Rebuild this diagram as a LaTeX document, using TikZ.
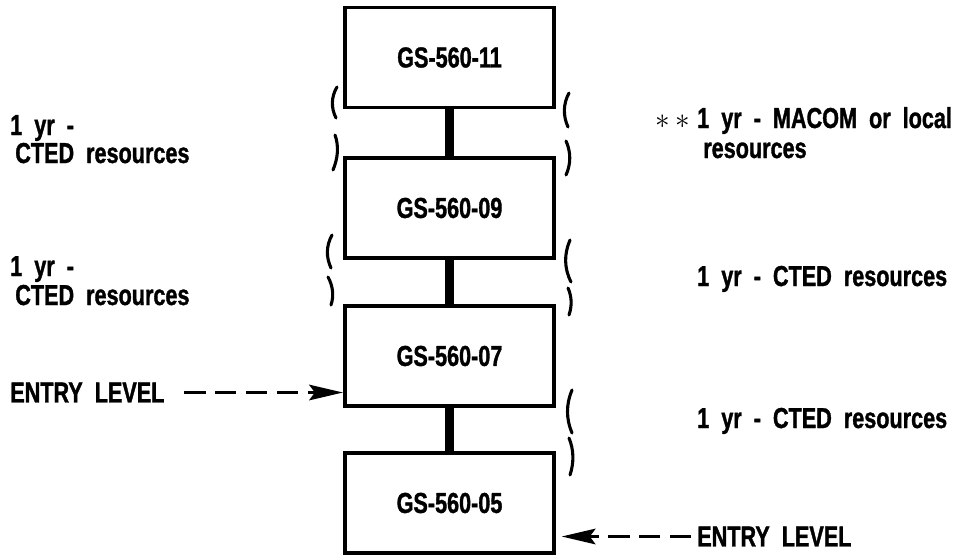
\documentclass[tikz,border=0pt]{standalone}
\usepackage{fontspec}
\newfontfamily\lblfont{Liberation Sans}[FakeStretch=0.75, WordSpace=2, FakeBold=1.2]
\usepackage{tikz}
\usetikzlibrary{arrows.meta}

\begin{document}
\begin{tikzpicture}[
    x=0.025cm, y=-0.025cm,
    grade/.style={draw, line width=2.8pt, minimum width=5.225cm, minimum height=2.5cm,
        font=\lblfont\bfseries\fontsize{20.5}{24}\selectfont},
    lbl/.style={anchor=base west, inner sep=0pt, font=\lblfont\bfseries\fontsize{20.5}{24}\selectfont},
    link/.style={line width=6.4pt},
    entry/.style={-{Stealth[length=24pt, width=11pt, inset=4pt, sep=0pt]}, line width=2.6pt, dash pattern=on 15pt off 7pt},
    brk/.style={line width=2.2pt, line cap=round}
]
    \useasboundingbox (0, 0) rectangle (964, 554);

    % Grade boxes
    \node[grade] (g11) at (449.5, 57.5) {GS-560-11};
    \node[grade] (g09) at (449.5, 208)  {GS-560-09};
    \node[grade] (g07) at (449.5, 356)  {GS-560-07};
    \node[grade] (g05) at (449.5, 503)  {GS-560-05};

    % Thick links between grades
    \draw[link] (g11) -- (g09);
    \draw[link] (g09) -- (g07);
    \draw[link] (g07) -- (g05);

    % Brackets, gap 11-09
    \draw[brk] (337, 87) .. controls (331, 97) and (331, 108) .. (336, 118);
    \draw[brk] (335, 135) .. controls (339, 146) and (338, 158) .. (333, 170);
    \draw[brk] (569, 93) .. controls (563, 104) and (563, 116) .. (568, 127);
    \draw[brk] (566, 141) .. controls (571, 152) and (571, 164) .. (566, 175);

    % Brackets, gap 09-07
    \draw[brk] (332, 235) .. controls (326, 246) and (326, 257) .. (331, 268);
    \draw[brk] (328, 277) .. controls (333, 286) and (334, 296) .. (331, 305);
    \draw[brk] (570, 240) .. controls (564, 254) and (564, 268) .. (571, 282);
    \draw[brk] (568, 288) .. controls (572, 297) and (572, 306) .. (569, 315);

    % Brackets, gap 07-05
    \draw[brk] (572, 390) .. controls (566, 404) and (566, 419) .. (572, 433);
    \draw[brk] (569, 438) .. controls (574, 450) and (574, 463) .. (570, 475);

    % Left labels
    \node[lbl] (l1a) at (10, 135) {1 yr -};
    \node[lbl] (l1b) at (15, 163) {CTED resources};
    \node[lbl] (l2a) at (10, 276) {1 yr -};
    \node[lbl] (l2b) at (15, 305) {CTED resources};

    % Right labels
    \node[lbl] (r1a) at (697, 128) {1 yr - MACOM or local};
    \node[lbl, anchor=base east, xshift=-5pt] (ast) at (r1a.base west) {$\ast\,\ast$};
    \node[lbl] (r1b) at (703, 158) {resources};
    \node[lbl] (r2) at (697, 286) {1 yr - CTED resources};
    \node[lbl] (r3) at (697, 428) {1 yr - CTED resources};

    % Entry levels
    \node[lbl, anchor=west] (entL) at (10, 392.5) {ENTRY LEVEL};
    \draw[entry, shorten <=14pt] (entL.east) -- (entL.east -| g07.west);
    \node[lbl, anchor=west] (entR) at (697, 536.5) {ENTRY LEVEL};
    \draw[entry, shorten <=4pt, shorten >=4pt] (entR.west) -- (entR.west -| g05.east);

\end{tikzpicture}
\end{document}
